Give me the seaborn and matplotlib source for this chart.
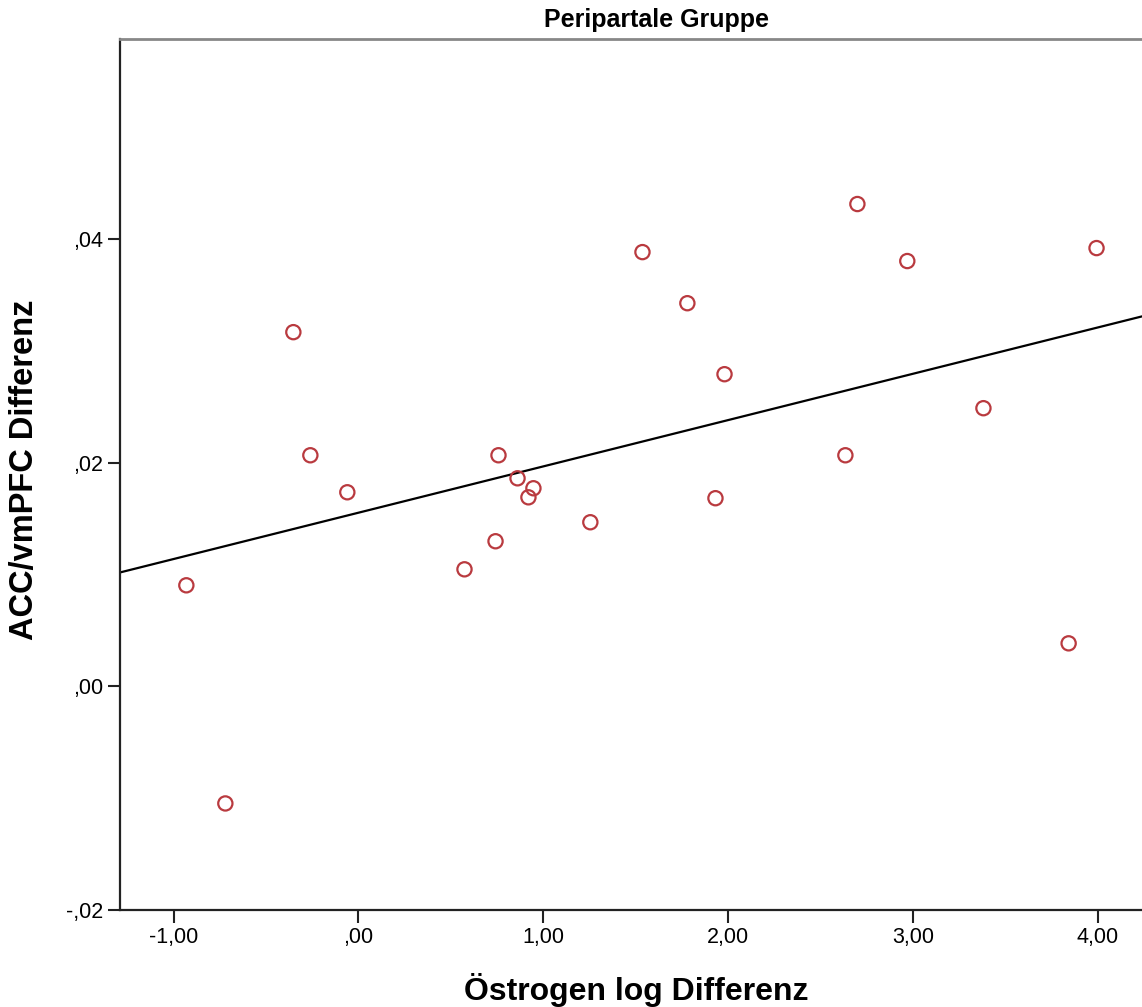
"""Peripartale Gruppe: ACC/vmPFC Differenz vs. Östrogen log Differenz"""

import numpy as np
import pandas as pd
import seaborn as sns
import matplotlib.pyplot as plt
from matplotlib.ticker import FuncFormatter

# values
oestrogen_log_diff = [-0.931, -0.720, -0.352, -0.260, -0.060,
                      0.574, 0.742, 0.758, 0.861, 0.920, 0.947,
                      1.255, 1.537, 1.780, 1.932, 1.981,
                      2.635, 2.700, 2.970, 3.382, 3.843, 3.994]
acc_vmpfc_diff = [0.00904, -0.01047, 0.03168, 0.02067, 0.01736,
                  0.01047, 0.01298, 0.02067, 0.01861, 0.01691, 0.01772,
                  0.01468, 0.03884, 0.03427, 0.01683, 0.02792,
                  0.02067, 0.04314, 0.03804, 0.02488, 0.00385, 0.03920]
x_ticks = [-1, 0, 1, 2, 3, 4]
y_ticks = [-0.02, 0.0, 0.02, 0.04]

xlabel = 'Östrogen log Differenz'
ylabel = 'ACC/vmPFC Differenz'
title = 'Peripartale Gruppe'


def spss_fmt(val, pos):
    """German SPSS style: comma decimal, no leading zero"""
    s = f"{val:.2f}"
    if s.startswith('0.'):
        s = s[1:]
    elif s.startswith('-0.'):
        s = '-' + s[2:]
    if s == '-.00':
        s = '.00'
    return s.replace('.', ',')


def main():
    sns.set_style('white')
    plt.rcParams['font.family'] = ['Liberation Sans', 'DejaVu Sans']
    plt.rcParams['text.color'] = 'black'

    df = pd.DataFrame({xlabel: oestrogen_log_diff, ylabel: acc_vmpfc_diff})

    fig = plt.figure(figsize=(11.42, 10.07), dpi=100)
    ax = fig.add_axes([120 / 1142, 97 / 1007, 1.0 - 120 / 1142, 871 / 1007])
    ax.set_xlim(-1.29, 4.24)
    ax.set_ylim(-0.02, 0.0579)

    sns.regplot(data=df, x=xlabel, y=ylabel, ax=ax, scatter=False, ci=None,
                truncate=False, color='black', line_kws={'linewidth': 1.6})
    sns.scatterplot(data=df, x=xlabel, y=ylabel, ax=ax, marker='o', s=105,
                    facecolors='none', edgecolor='#b93a3f', linewidth=1.6, zorder=3)

    ax.set_xlim(-1.29, 4.24)
    ax.set_ylim(-0.02, 0.0579)
    ax.set_xticks(x_ticks)
    ax.set_yticks(y_ticks)
    ax.xaxis.set_major_formatter(FuncFormatter(spss_fmt))
    ax.yaxis.set_major_formatter(FuncFormatter(spss_fmt))
    ax.tick_params(axis='both', direction='out', length=9, width=1.5,
                   color='#222222', labelsize=15.5, pad=3, labelcolor='black')
    ax.tick_params(axis='x', bottom=True)
    ax.tick_params(axis='y', left=True)

    for side in ['left', 'bottom']:
        ax.spines[side].set_color('#222222')
        ax.spines[side].set_linewidth(1.6)
    ax.spines['top'].set_color('#888888')
    ax.spines['top'].set_linewidth(2)
    ax.spines['right'].set_visible(False)

    ax.set_xlabel('')
    ax.set_ylabel('')
    fig.text(636 / 1142, 1 - 990 / 1007, xlabel, ha='center', va='center',
             fontsize=23, fontweight='bold', color='black')
    fig.text(25 / 1142, 1 - 470 / 1007, ylabel, ha='center', va='center',
             rotation=90, fontsize=23.5, fontweight='bold', color='black')
    fig.text(657 / 1142, 1 - 20 / 1007, title, ha='center', va='center',
             fontsize=18, fontweight='bold', color='black')

    plt.savefig('out.png', dpi=100)


if __name__ == '__main__':
    main()
